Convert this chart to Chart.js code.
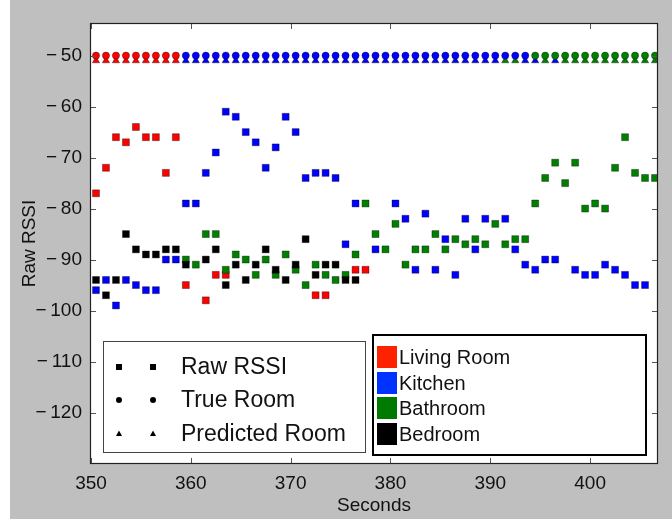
<!DOCTYPE html>
<html>
<head>
<meta charset="utf-8">
<script src="https://cdn.jsdelivr.net/npm/chart.js@4.4.1/dist/chart.umd.min.js"></script>
<style>
  html, body { margin: 0; padding: 0; background: #bfbfbf; }
  canvas { display: block; }
</style>
</head>
<body>
<canvas id="rssi" width="672" height="519"></canvas>
<script>
// Sample times (s)
const seconds = [
  350.5, 351.5, 352.5, 353.5, 354.5, 355.5, 356.5, 357.5, 358.5, 359.5,
  360.5, 361.5, 362.5, 363.5, 364.5, 365.5, 366.5, 367.5, 368.5, 369.5,
  370.5, 371.5, 372.5, 373.5, 374.5, 375.5, 376.5, 377.5, 378.5, 379.5,
  380.5, 381.5, 382.5, 383.5, 384.5, 385.5, 386.5, 387.5, 388.5, 389.5,
  390.5, 391.5, 392.5, 393.5, 394.5, 395.5, 396.5, 397.5, 398.5, 399.5,
  400.5, 401.5, 402.5, 403.5, 404.5, 405.5, 406.5
];

// Raw RSSI per beacon (dBm), null where no reading
const livingRoom = [
  -77, -72, -66, -67, -64, -66, -66, -73, -66, -95,
  null, -98, -93, -93, null, null, null, null, null, null,
  null, null, -97, -97, null, null, -92, -92, null, null,
  null, null, null, null, null, null, null, null, null, null,
  null, null, null, null, null, null, null, null, null, null,
  null, null, null, null, null, null, null
];
const kitchen = [
  -96, -94, -99, -94, -95, -96, -96, -90, -90, -79,
  -79, -73, -69, -61, -62, -65, -67, -72, -68, -62,
  -65, -74, -73, -73, -74, -87, -79, null, -88, null,
  -79, -82, -92, -81, -92, -86, -93, -82, -88, -82,
  null, -82, -88, -91, -92, -90, -90, null, -92, -93,
  -93, -91, -92, -93, -95, -95, null
];
const bathroom = [
  null, null, null, null, null, null, null, null, null, -90,
  -91, -85, -85, -92, -89, -90, -93, -90, -93, -89,
  -92, -95, -91, -93, -94, -93, -89, -79, -85, -88,
  -83, -91, -88, -88, -85, -88, -86, -87, -86, -87,
  -83, -87, -86, -86, -79, -74, -71, -75, -71, -80,
  -79, -80, -72, -66, -73, -74, -74
];
const bedroom = [
  -94, -97, -94, -85, -88, -89, -89, -88, -88, -91,
  null, -90, -88, -95, -91, -94, -91, -88, -92, -94,
  -91, -86, -93, -91, -91, -94, -94, null, null, null,
  null, null, null, null, null, null, null, null, null, null,
  null, null, null, null, null, null, null, null, null, null,
  null, null, null, null, null, null, null
];

// Room per sample: L = Living Room, K = Kitchen, B = Bathroom, D = Bedroom
const trueRoom = [...(
  'LLLLLLLLL' +
  'KKKKKKKKKK' + 'KKKKKKKKKK' + 'KKKKKKKKKK' + 'KKKKK' +
  'BBBBBBBBBB' + 'BBB'
)];
const predictedRoom = [...(
  'LLLLLLLLL' +
  'KKKKKKKKKK' + 'KKKKKKKKKK' + 'KKKKKKKKKK' + 'KK' +
  'BBKKBK' +
  'BBBBBBBBBB'
)];

// Rows where the room markers sit
const trueRoomLevel = -50;
const predictedRoomLevel = -51;

const roomNames = ['Living Room', 'Kitchen', 'Bathroom', 'Bedroom'];
const roomCodes = ['L', 'K', 'B', 'D'];
const roomColors = ['#ff0000', '#0000ff', '#008000', '#000000'];
const swatchColors = ['#ff2200', '#0033ff', '#007a00', '#000000'];
const markerLabels = ['Raw RSSI', 'True Room', 'Predicted Room'];

const FONT = "'Liberation Sans', Arial, Helvetica, sans-serif";
const TEXT = '#111111';

const colorOf = code => roomColors[roomCodes.indexOf(code)];
const points = values => seconds.map((s, i) => ({ x: s, y: values[i] }));
const row = level => seconds.map(s => ({ x: s, y: level }));

const squareStyle = color => ({
  type: 'scatter',
  showLine: false,
  pointStyle: 'rect',
  pointRadius: 4.9,
  pointHoverRadius: 4.9,
  backgroundColor: color,
  borderColor: 'rgba(0,0,0,0.45)',
  borderWidth: 0.8,
  clip: 0
});

const datasets = [
  {
    label: 'True Room',
    data: row(trueRoomLevel),
    type: 'scatter',
    pointStyle: 'circle',
    pointRadius: 3.6,
    pointHoverRadius: 3.6,
    backgroundColor: trueRoom.map(colorOf),
    borderColor: 'rgba(0,0,0,0.45)',
    borderWidth: 0.8,
    clip: 0
  },
  {
    label: 'Predicted Room',
    data: row(predictedRoomLevel),
    type: 'scatter',
    pointStyle: 'triangle',
    pointRadius: 4.2,
    pointHoverRadius: 4.2,
    backgroundColor: predictedRoom.map(colorOf),
    borderColor: 'rgba(0,0,0,0.45)',
    borderWidth: 0.8,
    clip: 0
  },
  { label: 'Bedroom', data: points(bedroom), ...squareStyle(roomColors[3]) },
  { label: 'Bathroom', data: points(bathroom), ...squareStyle(roomColors[2]) },
  { label: 'Kitchen', data: points(kitchen), ...squareStyle(roomColors[1]) },
  { label: 'Living Room', data: points(livingRoom), ...squareStyle(roomColors[0]) }
];

// Grey figure, white axes face, frame with inward ticks, two legend boxes
const figure = {
  id: 'figure',
  beforeDraw(chart) {
    const { ctx, chartArea: a, width, height } = chart;
    ctx.save();
    ctx.fillStyle = '#bfbfbf';
    ctx.fillRect(0, 0, width, height);
    ctx.fillStyle = '#ffffff';
    ctx.fillRect(0, 0, 10, height);
    ctx.fillRect(a.left, a.top, a.right - a.left, a.bottom - a.top);
    ctx.restore();
  },
  afterDraw(chart) {
    const { ctx, chartArea: a, scales } = chart;
    ctx.save();

    // inward ticks on all four sides
    ctx.strokeStyle = '#555';
    ctx.lineWidth = 1;
    ctx.beginPath();
    scales.y.ticks.forEach(t => {
      const py = Math.round(scales.y.getPixelForValue(t.value)) + 0.5;
      ctx.moveTo(a.left, py); ctx.lineTo(a.left + 5, py);
      ctx.moveTo(a.right, py); ctx.lineTo(a.right - 5, py);
    });
    scales.x.ticks.forEach(t => {
      const px = Math.round(scales.x.getPixelForValue(t.value)) + 0.5;
      ctx.moveTo(px, a.bottom); ctx.lineTo(px, a.bottom - 5);
      ctx.moveTo(px, a.top); ctx.lineTo(px, a.top + 5);
    });
    ctx.stroke();

    // frame
    ctx.strokeStyle = '#222';
    ctx.lineWidth = 1.2;
    ctx.strokeRect(a.left - 0.5, a.top - 0.5, a.right - a.left + 1, a.bottom - a.top + 1);

    // marker-type legend
    ctx.fillStyle = '#ffffff';
    ctx.fillRect(103, 341, 262, 111);
    ctx.strokeStyle = '#444';
    ctx.lineWidth = 1;
    ctx.strokeRect(103.5, 341.5, 262, 111);
    const rowsY = [367, 400, 434];
    ctx.fillStyle = '#000';
    [119, 153].forEach(mx => {
      ctx.fillRect(mx - 3, rowsY[0] - 3, 6, 6);
      ctx.beginPath();
      ctx.arc(mx, rowsY[1], 3, 0, Math.PI * 2);
      ctx.fill();
      ctx.beginPath();
      ctx.moveTo(mx, rowsY[2] - 3.5);
      ctx.lineTo(mx - 3, rowsY[2] + 2);
      ctx.lineTo(mx + 3, rowsY[2] + 2);
      ctx.closePath();
      ctx.fill();
    });
    ctx.fillStyle = TEXT;
    ctx.font = '23px ' + FONT;
    ctx.textBaseline = 'middle';
    ctx.textAlign = 'left';
    markerLabels.forEach((t, i) => ctx.fillText(t, 181, rowsY[i] + 1));

    // room colour legend
    ctx.fillStyle = '#ffffff';
    ctx.fillRect(373, 335, 273, 120);
    ctx.strokeStyle = '#000';
    ctx.lineWidth = 2;
    ctx.strokeRect(373, 335, 273, 120);
    const roomY = [357, 383, 408, 434];
    ctx.font = '20px ' + FONT;
    roomNames.forEach((name, i) => {
      ctx.fillStyle = swatchColors[i];
      ctx.fillRect(377, roomY[i] - 11, 20, 22);
      ctx.fillStyle = TEXT;
      ctx.fillText(name, 399, roomY[i] + 1);
    });

    ctx.restore();
  }
};

const tickFont = { family: FONT, size: 19 };

new Chart(document.getElementById('rssi'), {
  type: 'scatter',
  data: { datasets },
  options: {
    responsive: false,
    animation: false,
    events: [],
    layout: { padding: { left: 0, top: 24, right: 15, bottom: 0 } },
    plugins: { legend: { display: false }, tooltip: { enabled: false } },
    scales: {
      x: {
        type: 'linear',
        position: 'bottom',
        min: 350,
        max: 406.7,
        grid: { display: false, drawTicks: false },
        border: { display: false },
        ticks: {
          stepSize: 10,
          includeBounds: false,
          autoSkip: false,
          maxRotation: 0,
          padding: 9,
          color: TEXT,
          font: tickFont,
          callback: v => String(v)
        },
        title: {
          display: true,
          text: 'Seconds',
          color: TEXT,
          font: { family: FONT, size: 19 },
          padding: { top: 0, bottom: 2 }
        },
        afterFit: s => { s.height = 56; }
      },
      y: {
        type: 'linear',
        position: 'left',
        min: -129.9,
        max: -43.8,
        grid: { display: false, drawTicks: false },
        border: { display: false },
        ticks: {
          stepSize: 10,
          includeBounds: false,
          padding: 9,
          color: TEXT,
          font: tickFont,
          callback: v => (v < 0 ? '\u2212\u2009' + Math.abs(v) : String(v))
        },
        title: {
          display: true,
          text: 'Raw RSSI',
          color: TEXT,
          font: { family: FONT, size: 19 },
          padding: { top: 18, bottom: 0 }
        },
        afterFit: s => { s.width = 91; }
      }
    }
  },
  plugins: [figure]
});
</script>
</body>
</html>
